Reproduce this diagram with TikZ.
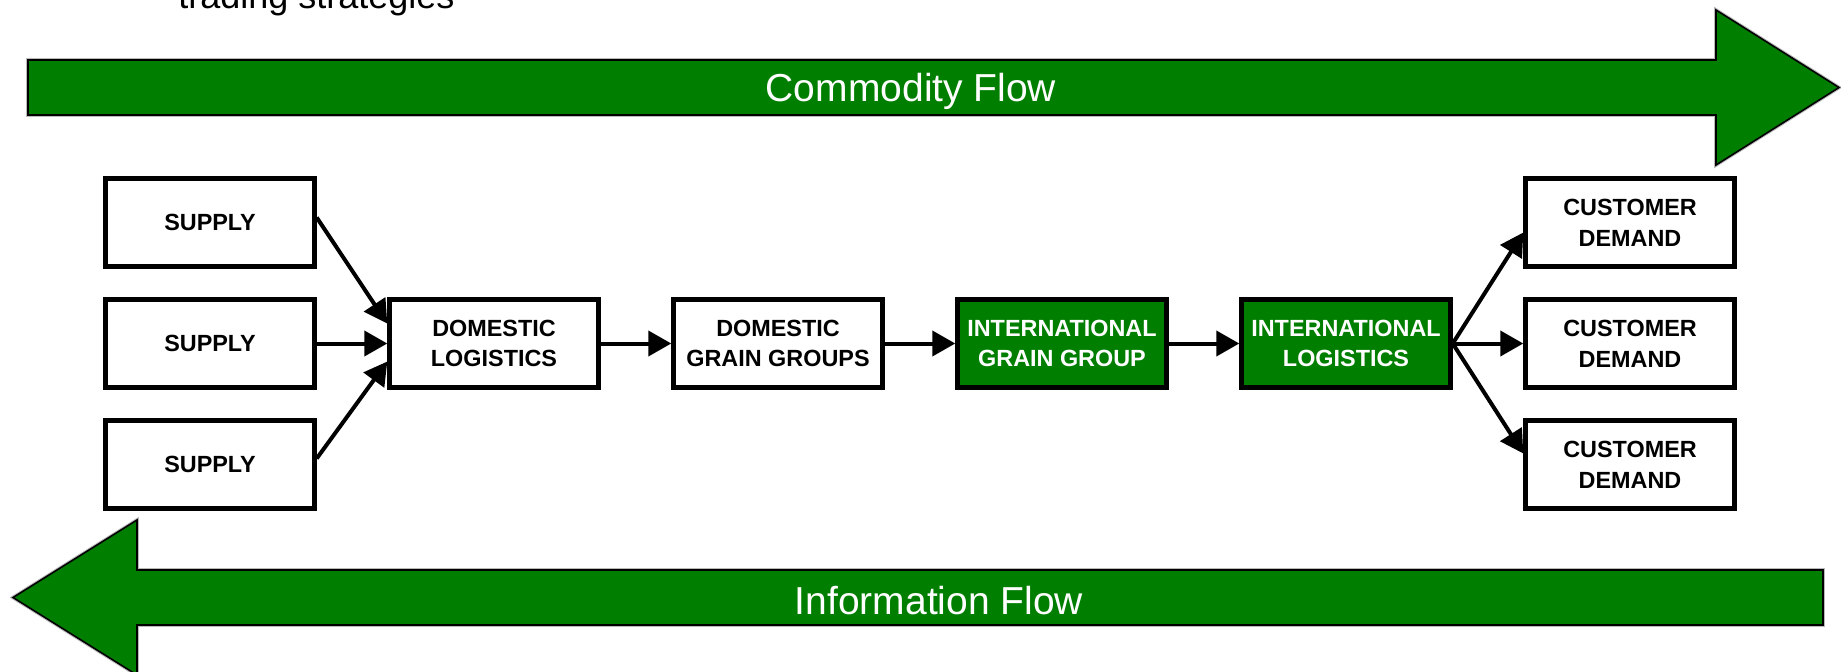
\documentclass[tikz,border=0pt]{standalone}
\usepackage{fontspec}
\setmainfont{Liberation Sans}
\usetikzlibrary{arrows.meta,calc}
\definecolor{flowgreen}{RGB}{0,126,0}
\tikzset{
  stage/.style={draw=black, line width=2.2pt, fill=white, minimum width=104.5pt,
    minimum height=44pt, inner sep=0pt, align=center,
    font=\fontsize{11.7}{15.4}\selectfont\bfseries},
  keystage/.style={stage, fill=flowgreen, text=white},
  conn/.style={line width=2pt, -{Triangle[length=11.5pt,width=12.5pt]}},
  bigarrow/.style={fill=flowgreen, draw=black, line width=0.8pt, line join=miter,
    preaction={draw=gray!55, line width=1.8pt}},
  flowlabel/.style={text=white, font=\fontsize{19.5}{22}\selectfont, inner sep=0pt}
}
\begin{document}
\begin{tikzpicture}[x=0.5pt,y=-0.5pt]
\useasboundingbox (0,0) rectangle (1841,671);

% heading line running off the top edge
\node[anchor=base west, inner sep=0pt, font=\fontsize{18}{21}\selectfont] (head) at (178,8) {trading strategies};

% commodity flow: left to right
\draw[bigarrow] (28,60) -- (1716,60) -- (1716,10) -- (1839,87.5) -- (1716,165) -- (1716,115) -- (28,115) -- cycle;
\node[flowlabel] (commodity) at (911,91.5) {Commodity Flow};

% information flow: right to left
\draw[bigarrow] (13,597.5) -- (137,520) -- (137,570) -- (1823,570) -- (1823,625) -- (137,625) -- (137,675) -- cycle;
\node[flowlabel] (information) at (939,600.5) {Information Flow};

% supply side
\node[stage] (s1) at (210,222.5) {SUPPLY};
\node[stage] (s2) at (210,343.5) {SUPPLY};
\node[stage] (s3) at (210,464.5) {SUPPLY};

% chain
\node[stage] (dl) at (494,343.5) {DOMESTIC\\LOGISTICS};
\node[stage] (dg) at (778,343.5) {DOMESTIC\\GRAIN GROUPS};
\node[keystage] (ig) at (1062,343.5) {INTERNATIONAL\\GRAIN GROUP};
\node[keystage] (il) at (1346,343.5) {INTERNATIONAL\\LOGISTICS};

% demand side
\node[stage] (c1) at (1630,222.5) {CUSTOMER\\DEMAND};
\node[stage] (c2) at (1630,343.5) {CUSTOMER\\DEMAND};
\node[stage] (c3) at (1630,464.5) {CUSTOMER\\DEMAND};

% connectors
\draw[conn] ([yshift=2.5pt]s1.east) -- ([yshift=10pt]dl.west);
\draw[conn] (s2.east) -- (dl.west);
\draw[conn] ([yshift=3pt]s3.east) -- ([yshift=-9pt]dl.west);
\draw[conn] (dl) -- (dg);
\draw[conn] (dg) -- (ig);
\draw[conn] (ig) -- (il);
\draw[conn] (il.east) -- ([yshift=-5pt]c1.west);
\draw[conn] (il.east) -- (c2.west);
\draw[conn] (il.east) -- ([yshift=5.5pt]c3.west);
\end{tikzpicture}
\end{document}
